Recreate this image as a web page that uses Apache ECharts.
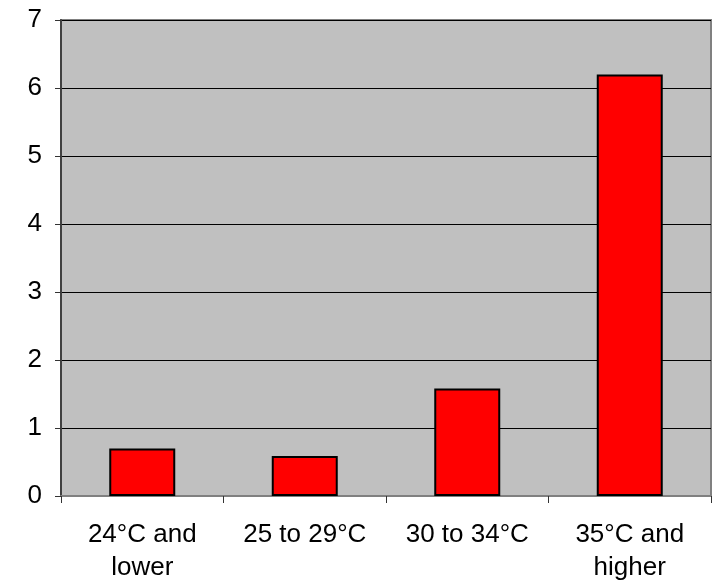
<!DOCTYPE html>
<html>
<head>
<meta charset="utf-8">
<script src="https://cdn.jsdelivr.net/npm/echarts@6/dist/echarts.min.js"></script>
<style>html,body{margin:0;padding:0;background:#fff;}#c{width:717px;height:582px;}</style>
</head>
<body>
<div id="c"></div>
<script>
const categories = ['24°C and\nlower', '25 to 29°C', '30 to 34°C', '35°C and\nhigher'];
const values = [0.7, 0.59, 1.58, 6.2];
const yTicks = [0, 1, 2, 3, 4, 5, 6, 7];

const chart = echarts.init(document.getElementById('c'), null, {renderer: 'canvas'});
const font = '"Liberation Sans", Arial, sans-serif';
chart.setOption({
  animation: false,
  grid: {left: 61, right: 6, top: 20, bottom: 86, containLabel: false, outerBoundsMode: 'none', show: true, backgroundColor: '#C0C0C0', borderColor: '#808080', borderWidth: 2},
  xAxis: {
    type: 'category', data: categories,
    axisLine: {show: true, lineStyle: {color: '#808080', width: 2}},
    axisTick: {show: true, length: 7, lineStyle: {color: '#333', width: 1}},
    axisLabel: {color: '#000', fontFamily: font, fontSize: 26, lineHeight: 33, margin: 22}
  },
  yAxis: {
    type: 'value', min: yTicks[0], max: yTicks[yTicks.length - 1], interval: 1,
    axisLine: {show: true, lineStyle: {color: '#404040', width: 2}},
    axisTick: {show: true, length: 6, lineStyle: {color: '#333', width: 1}},
    splitLine: {show: true, lineStyle: {color: '#000', width: 1}},
    axisLabel: {color: '#000', fontFamily: font, fontSize: 26, margin: 19}
  },
  series: [{
    type: 'bar', data: values, barWidth: 66,
    itemStyle: {color: '#FF0000', borderColor: '#000', borderWidth: 2}
  }]
});
</script>
</body>
</html>
